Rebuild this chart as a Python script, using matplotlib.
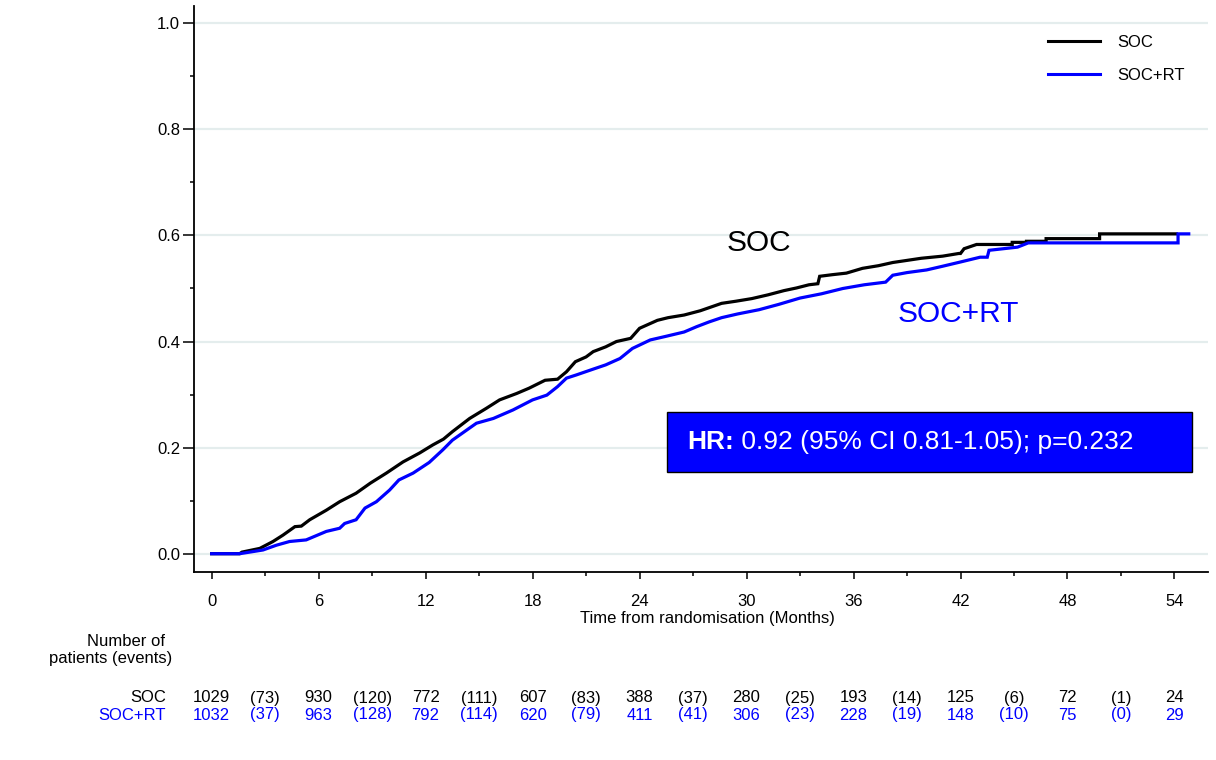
import matplotlib
matplotlib.use("Agg")
import matplotlib.pyplot as plt
from matplotlib import font_manager
from matplotlib.patches import Rectangle
from matplotlib.lines import Line2D
from matplotlib.transforms import blended_transform_factory
import numpy as np

plt.rcParams["font.family"] = ["Liberation Sans", "DejaVu Sans"]

# cumulative incidence curves (months, proportion);
# early part has many tiny steps so it is traced as a line, late big steps keep their corners
soc_t = [0, 1.57, 1.7, 2.7, 3.44, 4.0, 4.67, 5.03, 5.5, 6.43, 7.18, 8.1, 8.9, 9.8,
         10.73, 11.67, 12.4, 13.0, 13.5, 14.47, 15.4, 16.15, 17.1, 17.8, 18.7,
         19.4, 19.9, 20.4, 21.0, 21.4, 22.1, 22.7, 23.5, 24.0, 24.6, 25.0, 25.6,
         26.5, 27.4, 28.0, 28.6, 29.4, 30.3, 31.2, 32.1, 32.8, 33.5, 34.0, 34.1,
         34.8, 35.6, 36.5, 37.4, 38.2, 39.0, 39.8, 41.0, 41.9, 42.0, 42.2, 42.9,
         44.9, 44.9, 45.7, 45.7, 46.8, 46.8, 49.8, 49.8, 54.1]
soc_v = [0, 0, 0.003, 0.010, 0.023, 0.035, 0.051, 0.052, 0.064, 0.082, 0.098,
         0.114, 0.133, 0.152, 0.173, 0.190, 0.205, 0.216, 0.230, 0.255, 0.274,
         0.290, 0.302, 0.312, 0.327, 0.329, 0.343, 0.362, 0.371, 0.381, 0.390,
         0.400, 0.406, 0.425, 0.434, 0.440, 0.445, 0.450, 0.458, 0.465, 0.472,
         0.476, 0.481, 0.488, 0.496, 0.501, 0.507, 0.509, 0.523, 0.526, 0.529,
         0.538, 0.543, 0.549, 0.553, 0.557, 0.561, 0.566, 0.566, 0.575, 0.583,
         0.583, 0.587, 0.587, 0.589, 0.589, 0.594, 0.594, 0.603, 0.603]

rt_t = [0, 1.57, 2.88, 3.63, 4.37, 5.3, 6.43, 7.18, 7.46, 8.1, 8.6, 9.24, 9.98,
        10.5, 11.3, 12.2, 12.97, 13.5, 14.3, 14.85, 15.8, 16.9, 18.0, 18.8, 19.4,
        19.9, 20.45, 21.4, 22.1, 22.9, 23.6, 24.6, 25.5, 26.5, 27.2, 27.9, 28.6,
        29.5, 30.7, 31.8, 33.0, 34.2, 35.4, 36.6, 37.8, 38.2, 39.0, 40.1, 41.0,
        42.0, 43.1, 43.5, 43.6, 45.2, 45.8, 54.2, 54.2, 54.8]
rt_v = [0, 0, 0.007, 0.016, 0.023, 0.026, 0.042, 0.048, 0.057, 0.064, 0.086,
        0.098, 0.120, 0.139, 0.152, 0.172, 0.196, 0.214, 0.233, 0.246, 0.255,
        0.271, 0.290, 0.299, 0.315, 0.331, 0.337, 0.348, 0.356, 0.368, 0.387,
        0.403, 0.410, 0.418, 0.428, 0.437, 0.445, 0.452, 0.460, 0.470, 0.482,
        0.490, 0.500, 0.507, 0.512, 0.525, 0.530, 0.535, 0.542, 0.550, 0.559,
        0.559, 0.572, 0.578, 0.586, 0.586, 0.603, 0.603]

# number at risk table
risk_times = [0, 6, 12, 18, 24, 30, 36, 42, 48, 54]
event_times = [3, 9, 15, 21, 27, 33, 39, 45, 51]
soc_risk = [1029, 930, 772, 607, 388, 280, 193, 125, 72, 24]
soc_events = [73, 120, 111, 83, 37, 25, 14, 6, 1]
rt_risk = [1032, 963, 792, 620, 411, 306, 228, 148, 75, 29]
rt_events = [37, 128, 114, 79, 41, 23, 19, 10, 0]

BLUE = "#0000ff"
W, H = 1216, 760

# the big labels use a condensed face when one is installed
installed = {f.name for f in font_manager.fontManager.ttflist}
if "Liberation Sans Narrow" in installed:
    big_font, lab_size, hr_size = ["Liberation Sans Narrow", "DejaVu Sans"], 26, 23
else:
    big_font, lab_size, hr_size = ["Liberation Sans", "DejaVu Sans"], 21.5, 19

fig = plt.figure(figsize=(12.16, 7.6), dpi=100)
ax = fig.add_axes([194 / W, 1 - 572 / H, (1208 - 194) / W, (572 - 6) / H])

ax.plot(soc_t, soc_v, color="black", lw=2.3, zorder=3, solid_joinstyle="miter")
ax.plot(rt_t, rt_v, color=BLUE, lw=2.3, zorder=3, solid_joinstyle="miter")

ax.set_xlim(-0.99, 55.88)
ax.set_ylim(-0.0345, 1.0326)
ax.set_xticks(np.arange(0, 55, 6))
ax.set_xticks(np.arange(3, 55, 6), minor=True)
ax.set_yticks(np.arange(0, 1.01, 0.2))
ax.set_yticks(np.arange(0.1, 1.0, 0.2), minor=True)
ax.set_yticklabels([f"{v:.1f}" for v in np.arange(0, 1.01, 0.2)])
ax.yaxis.grid(True, color="#e4eded", lw=1.6)
ax.set_axisbelow(True)
for s in ["top", "right"]:
    ax.spines[s].set_visible(False)
for s in ["left", "bottom"]:
    ax.spines[s].set_linewidth(1.3)
ax.tick_params(axis="x", which="major", length=5, width=1.1, pad=11, labelsize=12)
ax.tick_params(axis="x", which="minor", length=3, width=1.1)
ax.tick_params(axis="y", which="major", length=8, width=1.1, pad=2, labelsize=12)
ax.tick_params(axis="y", which="minor", length=3, width=1.1)

fig.text(707 / W, 1 - 618 / H, "Time from randomisation (Months)", ha="center",
         va="center", fontsize=12)

# curve labels
ax.text(30.7, 0.585, "SOC", fontsize=lab_size, family=big_font,
        ha="center", va="center")
ax.text(41.9, 0.452, "SOC+RT", fontsize=lab_size, family=big_font,
        ha="center", va="center", color=BLUE)

# legend
handles = [Line2D([], [], color="black", lw=2.2), Line2D([], [], color=BLUE, lw=2.2)]
ax.legend(handles, ["SOC", "SOC+RT"], loc="upper left",
          bbox_to_anchor=(1048 / W, 1 - 35 / H), bbox_transform=fig.transFigure,
          frameon=False, fontsize=12, handlelength=3.1, handletextpad=1.08,
          labelspacing=1.08, borderpad=0, borderaxespad=0)

# hazard ratio box
ax.add_patch(Rectangle((667 / W, 1 - 472 / H), (1192 - 667) / W, 60 / H,
                       transform=fig.transFigure, facecolor=BLUE,
                       edgecolor="black", lw=1, clip_on=False, zorder=5))
t1 = ax.text(687 / W, 1 - 442 / H, "HR:", color="white", fontsize=hr_size,
             family=big_font, fontweight="bold", va="center",
             transform=fig.transFigure, zorder=6)
ax.annotate(" 0.92 (95% CI 0.81-1.05); p=0.232", xy=(1, 0), xycoords=t1,
            va="bottom", ha="left", color="white", fontsize=hr_size,
            family=big_font, zorder=6)

# number at risk table
tr = blended_transform_factory(ax.transData, fig.transFigure)
fig.text(165 / W, 1 - 642 / H, "Number of", ha="right", va="center", fontsize=12)
fig.text(172 / W, 1 - 659 / H, "patients (events)", ha="right", va="center", fontsize=12)
rows = [("SOC", soc_risk, soc_events, "black", 698),
        ("SOC+RT", rt_risk, rt_events, BLUE, 715)]
for name, risk, events, col, ypx in rows:
    y = 1 - ypx / H
    fig.text(166 / W, y, name, ha="right", va="center", fontsize=12, color=col)
    for t, n in zip(risk_times, risk):
        ax.text(t, y, str(n), transform=tr, ha="center", va="center",
                fontsize=12, color=col)
    for t, n in zip(event_times, events):
        ax.text(t, y, f"({n})", transform=tr, ha="center", va="center",
                fontsize=12, color=col)

fig.savefig("out.png", dpi=100)
